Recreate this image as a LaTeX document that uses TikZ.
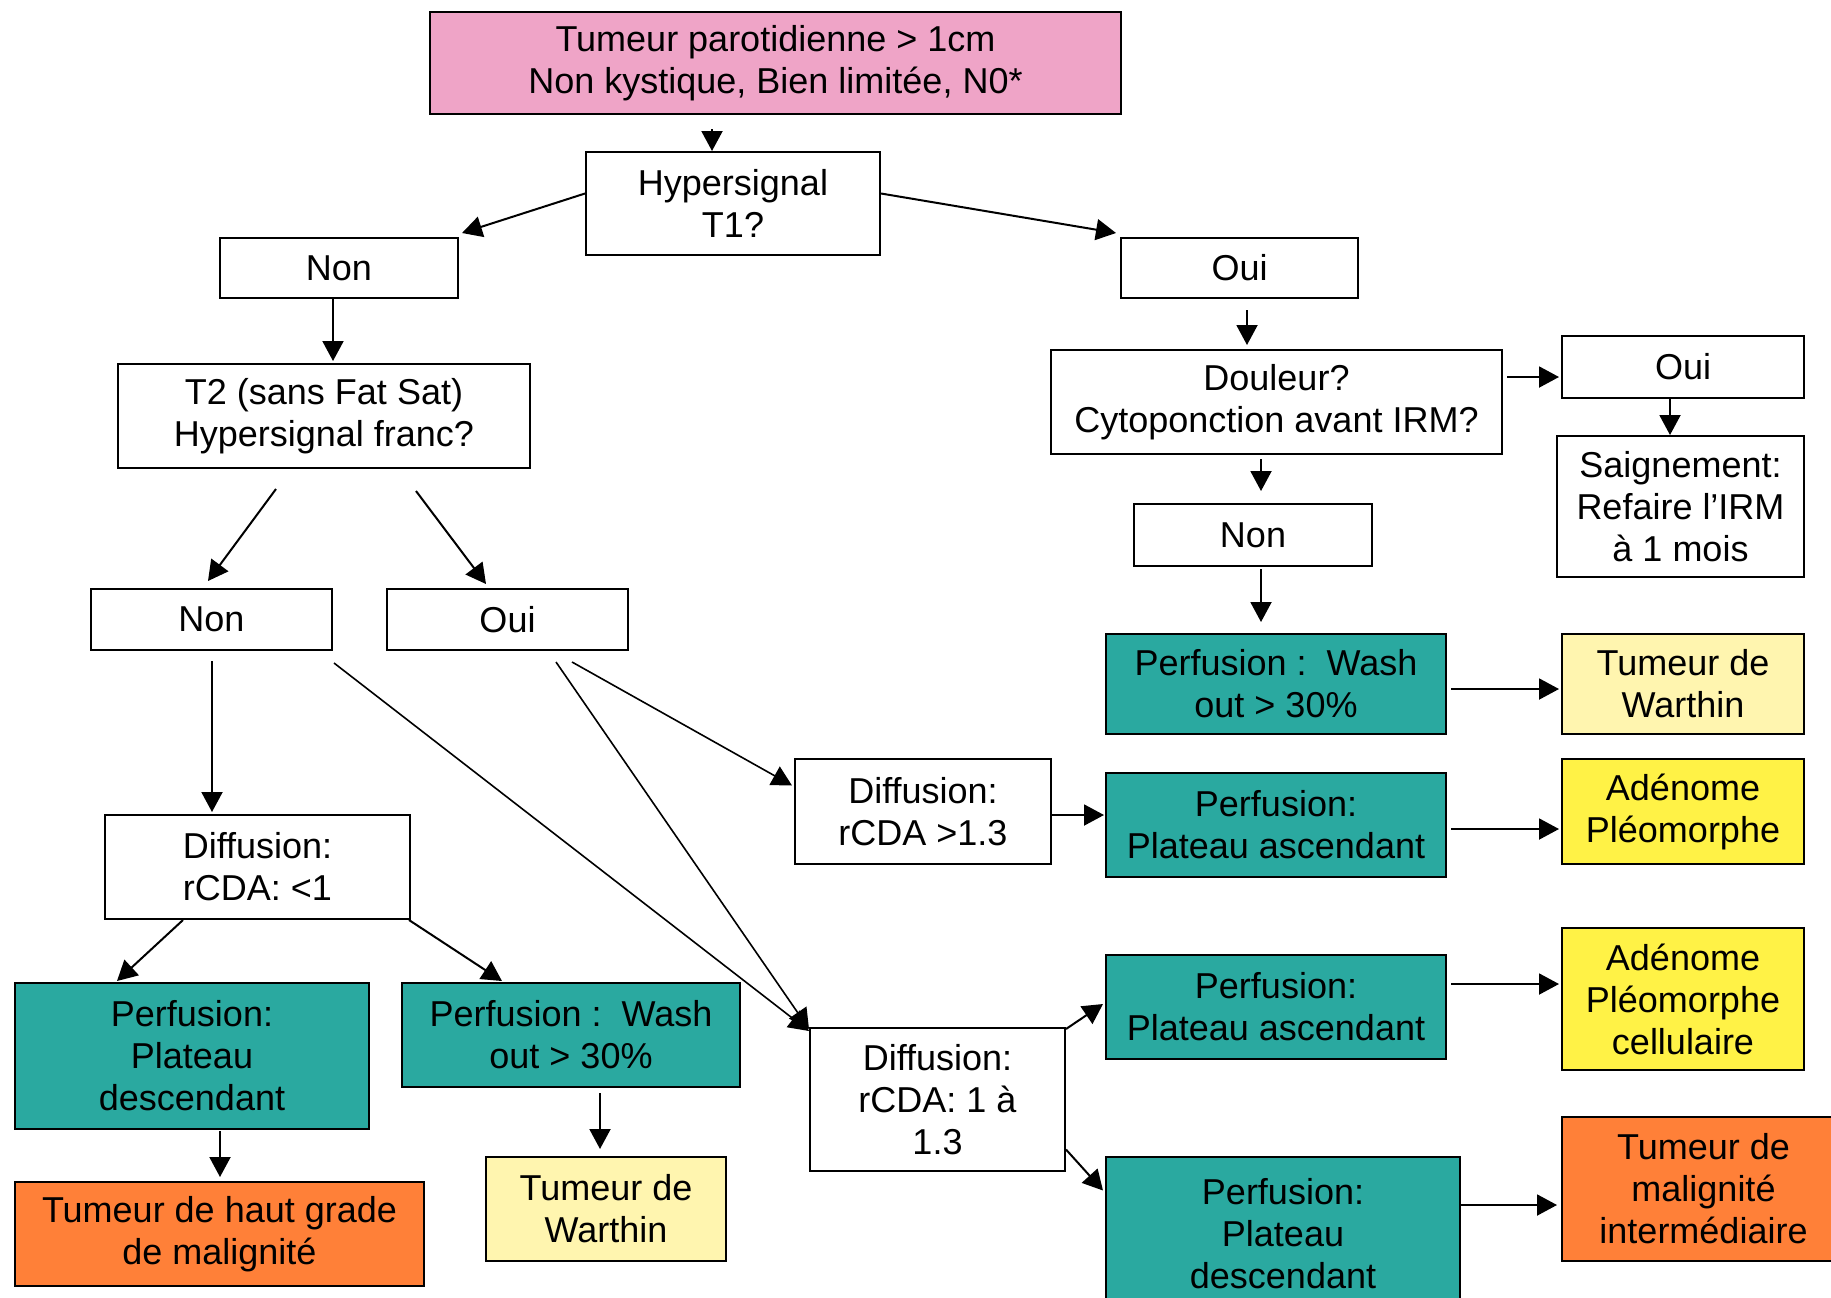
\documentclass[tikz,border=0pt]{standalone}
\usepackage{fontspec}
\setmainfont{Liberation Sans}
\usetikzlibrary{arrows.meta,calc}
\definecolor{cpink}{RGB}{239,164,199}
\definecolor{cteal}{RGB}{42,169,160}
\definecolor{clyel}{RGB}{255,245,175}
\definecolor{cyel}{RGB}{255,242,70}
\definecolor{corange}{RGB}{255,128,56}
\tikzset{
  box/.style={draw=black,line width=1pt,inner sep=0pt,align=center,
    font=\fontsize{18}{21}\selectfont},
  arr/.style={line width=1pt,-{Triangle[length=10pt,width=10.5pt]}},
  thinarr/.style={line width=0.8pt,-{Triangle[length=10pt,width=10.5pt]}}
}
\newcommand{\bx}[7]{% name, cx, cy, w, h, style, text
  \node[box,#6,minimum width=#4*0.5pt,minimum height=#5*0.5pt] (#1) at (#2,#3) {#7};}
\begin{document}
\begin{tikzpicture}[x=0.5pt,y=-0.5pt]
\clip (0,0) rectangle (1831,1297);
\fill[white] (0,0) rectangle (1831,1297);
\bx{top}{775.5}{63}{691}{102}{fill=cpink}{Tumeur parotidienne > 1cm\\Non kystique, Bien limitée, N0*}
\bx{hyp}{733}{203.5}{294}{103}{fill=white}{Hypersignal\\T1?}
\bx{nonA}{339}{268}{238}{60}{fill=white}{Non}
\bx{ouiA}{1239.5}{268}{237}{60}{fill=white}{Oui}
\bx{t2}{324}{416}{412}{104}{fill=white}{T2 (sans Fat Sat)\\Hypersignal franc?}
\bx{doul}{1276.5}{402}{451}{104}{fill=white}{Douleur?\\Cytoponction avant IRM?}
\bx{ouiB}{1683}{367}{242}{62}{fill=white}{Oui}
\bx{saign}{1680.5}{506.5}{247}{141}{fill=white}{Saignement:\\Refaire l’IRM\\à 1 mois}
\bx{nonB}{1253}{535}{238}{62}{fill=white}{Non}
\bx{washA}{1276}{684}{340}{100}{fill=cteal}{Perfusion :\ \ Wash\\out > 30\%}
\bx{warthA}{1683}{684}{242}{100}{fill=clyel}{Tumeur de\\Warthin}
\bx{nonC}{211.5}{619.5}{241}{61}{fill=white}{Non}
\bx{ouiC}{507.5}{619.5}{241}{61}{fill=white}{Oui}
\bx{diffA}{923}{811.5}{256}{105}{fill=white}{Diffusion:\\rCDA >1.3}
\bx{perfAA}{1276}{825}{340}{104}{fill=cteal}{Perfusion:\\Plateau ascendant}
\bx{adeno}{1683}{811.5}{242}{105}{fill=cyel}{Adénome\\Pléomorphe}
\bx{diffB}{257.5}{867}{305}{104}{fill=white}{Diffusion:\\rCDA: <1}
\bx{perfDA}{192}{1056}{354}{146}{fill=cteal}{Perfusion:\\Plateau\\descendant}
\bx{washB}{571}{1035}{338}{104}{fill=cteal}{Perfusion :\ \ Wash\\out > 30\%}
\bx{haut}{219.5}{1234}{409}{104}{fill=corange}{Tumeur de haut grade\\de malignité}
\bx{warthB}{606}{1209}{240}{104}{fill=clyel}{Tumeur de\\Warthin}
\bx{diffC}{937.5}{1099.5}{255}{143}{fill=white}{Diffusion:\\rCDA: 1 à\\1.3}
\bx{perfAB}{1276}{1007}{340}{104}{fill=cteal}{Perfusion:\\Plateau ascendant}
\bx{adenoC}{1683}{999}{242}{142}{fill=cyel}{Adénome\\Pléomorphe\\cellulaire}
\bx{perfDB}{1283}{1233.5}{354}{153}{fill=cteal}{Perfusion:\\Plateau\\descendant}
\bx{interm}{1703.5}{1189}{283}{144}{fill=corange}{Tumeur de\\malignité\\intermédiaire}
% connectors
\draw[arr] ($(top.south)+(-63.5,14)$) -- ($(hyp.north)+(-21,0)$);
\draw[arr] ($(hyp.west)+(0,-10)$) -- ($(nonA.north east)+(3,-4)$);
\draw[arr] ($(hyp.east)+(0,-10)$) -- ($(ouiA.north west)+(-4,-4)$);
\draw[arr] ($(nonA.south)+(-6,0)$) -- ($(t2.north)+(9,-2)$);
\draw[arr] ($(t2.south)+(-48,20)$) -- ($(nonC.north)+(-3.5,-7)$);
\draw[arr] ($(t2.south)+(92,22)$) -- ($(ouiC.north)+(-21.5,-4)$);
\draw[arr] ($(ouiA.south)+(7.5,11)$) -- ($(doul.north)+(-29.5,-4)$);
\draw[arr] ($(doul.east)+(4,-25)$) -- ($(ouiB.west)+(-2,10)$);
\draw[arr] ($(ouiB.south)+(-13,0)$) -- ($(saign.north)+(-10.5,0)$);
\draw[arr] ($(doul.south)+(-15.5,4)$) -- ($(nonB.north)+(8,-12)$);
\draw[arr] ($(nonB.south)+(8,2)$) -- ($(washA.north)+(-15,-11)$);
\draw[arr] ($(washA.east)+(4,5)$) -- ($(warthA.west)+(-2,5)$);
\draw[arr] ($(nonC.south)+(0.5,10)$) -- ($(diffB.north)+(-45.5,-2)$);
\draw[thinarr] ($(nonC.south east)+(1,12)$) -- ($(diffC.north west)+(0,4)$);
\draw[thinarr] ($(ouiC.south)+(48.5,11)$) -- ($(diffC.north west)+(0,2)$);
\draw[thinarr] ($(ouiC.south)+(64.5,11)$) -- ($(diffA.west)+(-2,-26)$);
\draw[arr] ($(diffA.east)+(0,3.5)$) -- ($(perfAA.west)+(-1,-10)$);
\draw[arr] ($(perfAA.east)+(4,4)$) -- ($(adeno.west)+(-2,17.5)$);
\draw[arr] ($(diffB.south)+(-74.5,0)$) -- ($(perfDA.north)+(-75,-1)$);
\draw[arr] ($(diffB.south east)+(-2,0)$) -- ($(washB.north)+(-69,-1)$);
\draw[arr] ($(perfDA.south)+(28,1)$) -- ($(haut.north)+(0.5,-4)$);
\draw[arr] ($(washB.south)+(29,5)$) -- ($(warthB.north)+(-6,-7)$);
\draw[arr] ($(diffC.north east)+(0,2)$) -- ($(perfAB.west)+(-2,-3)$);
\draw[arr] ($(diffC.east)+(0,50)$) -- ($(perfDB.west)+(-2,-43)$);
\draw[arr] ($(perfAB.east)+(4,-23)$) -- ($(adenoC.west)+(-2,-15)$);
\draw[arr] ($(perfDB.east)+(0,-28.5)$) -- ($(interm.west)+(-4,16)$);
\end{tikzpicture}
\end{document}
